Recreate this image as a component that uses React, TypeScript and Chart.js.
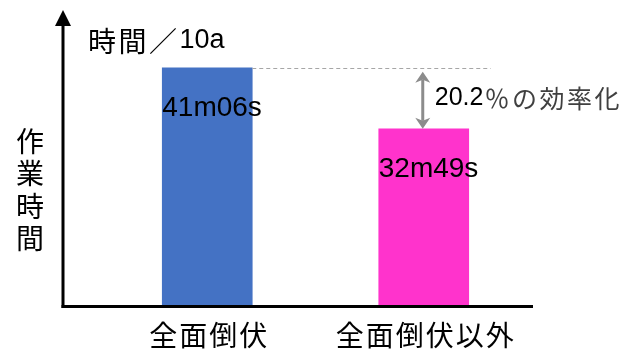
import { useEffect, useRef } from 'react';
import { Chart, registerables } from 'chart.js';

Chart.register(...registerables);

// ---- data ----
const categories = ['全面倒伏', '全面倒伏以外'];
const workMinutes = [41 + 6 / 60, 32 + 49 / 60];
const barColors = ['#4472C4', '#FF33CC'];
const yAxisTitle = '作業時間';
const unitLabel = '時間／10a';
const gainSuffix = '％の効率化';
const yMin = 8.9;
const yMax = 47.6;

const LATIN = '"Liberation Sans", "Noto Sans CJK JP", sans-serif';
const CJK = '"Noto Sans CJK JP", "Liberation Sans", sans-serif';

function fmtMinSec(v: number): string {
  let m = Math.floor(v);
  let s = Math.round((v - m) * 60);
  if (s === 60) { m += 1; s = 0; }
  return `${m}m${String(s).padStart(2, '0')}s`;
}

// draw text split into CJK / Latin runs with separate fonts; returns end x
function drawRuns(
  ctx: CanvasRenderingContext2D,
  text: string,
  x: number,
  y: number,
  cjkSize: number,
  latinSize: number,
  cjkSpacing: number,
) {
  const parts = text.split(/([\u3000-\u30ff\u4e00-\u9fff\uff00-\uffef]+)/).filter((p) => p.length);
  let cx = x;
  for (const p of parts) {
    const isCjk = /[\u3000-\u30ff\u4e00-\u9fff\uff00-\uffef]/.test(p);
    ctx.font = isCjk ? `${cjkSize}px ${CJK}` : `${latinSize}px ${LATIN}`;
    (ctx as any).letterSpacing = isCjk ? `${cjkSpacing}px` : '0px';
    ctx.fillText(p, cx, y);
    cx += ctx.measureText(p).width;
  }
  (ctx as any).letterSpacing = '0px';
  return cx;
}

const decor = {
  id: 'decor',
  afterDraw(chart: any) {
    const { ctx, chartArea: ca, scales } = chart;
    const meta = chart.getDatasetMeta(0);
    const b0: any = meta.data[0];
    const b1: any = meta.data[1];
    const axisX = ca.left - 36;
    const axisY = ca.bottom + 1.5;
    ctx.save();

    // axes
    ctx.strokeStyle = '#000';
    ctx.lineWidth = 3;
    ctx.beginPath();
    ctx.moveTo(axisX, axisY + 1.5);
    ctx.lineTo(axisX, 24);
    ctx.stroke();
    ctx.beginPath();
    ctx.moveTo(axisX - 1.5, axisY);
    ctx.lineTo(ca.right + 1, axisY);
    ctx.stroke();
    ctx.fillStyle = '#000';
    ctx.beginPath();
    ctx.moveTo(axisX, 10);
    ctx.lineTo(axisX + 8, 26);
    ctx.lineTo(axisX - 8, 26);
    ctx.closePath();
    ctx.fill();

    // x category labels
    ctx.fillStyle = '#000';
    ctx.font = `28px ${CJK}`;
    (ctx as any).letterSpacing = '2px';
    ctx.textAlign = 'center';
    ctx.textBaseline = 'middle';
    categories.forEach((c, i) => {
      ctx.fillText(c, scales.x.getPixelForValue(i) + 2, ca.bottom + 30);
    });

    // y axis title (stacked vertical)
    ctx.font = `28px ${CJK}`;
    (ctx as any).letterSpacing = '0px';
    Array.from(yAxisTitle).forEach((ch, i) => {
      ctx.fillText(ch, 30, 141 + i * 32.5);
    });

    // unit label
    ctx.textAlign = 'left';
    drawRuns(ctx, unitLabel, axisX + 25, 41, 28, 27, 2.5);

    // value labels
    ctx.font = `28px ${LATIN}`;
    [b0, b1].forEach((b, i) => {
      ctx.fillText(fmtMinSec(workMinutes[i]), b.x - b.width / 2, b.y + 40);
    });

    // dashed reference line
    ctx.strokeStyle = '#a6a6a6';
    ctx.lineWidth = 1;
    ctx.setLineDash([4, 3]);
    ctx.beginPath();
    ctx.moveTo(b0.x + b0.width / 2, Math.round(b0.y) + 0.5);
    ctx.lineTo(b1.x + 67, Math.round(b0.y) + 0.5);
    ctx.stroke();
    ctx.setLineDash([]);

    // double arrow
    const ax = b1.x - 1;
    const top = b0.y + 4;
    const bot = b1.y;
    ctx.strokeStyle = '#8c8c8c';
    ctx.fillStyle = '#8c8c8c';
    ctx.lineWidth = 3;
    ctx.beginPath();
    ctx.moveTo(ax, top + 8);
    ctx.lineTo(ax, bot - 8);
    ctx.stroke();
    ctx.beginPath();
    ctx.moveTo(ax, top);
    ctx.lineTo(ax + 7.5, top + 11);
    ctx.lineTo(ax, top + 8);
    ctx.lineTo(ax - 7.5, top + 11);
    ctx.closePath();
    ctx.fill();
    ctx.beginPath();
    ctx.moveTo(ax, bot);
    ctx.lineTo(ax + 7.5, bot - 11);
    ctx.lineTo(ax, bot - 8);
    ctx.lineTo(ax - 7.5, bot - 11);
    ctx.closePath();
    ctx.fill();

    // gain annotation
    const gain = (((workMinutes[0] - workMinutes[1]) / workMinutes[0]) * 100).toFixed(1);
    const tx = ax + 12;
    const ty = (b0.y + b1.y) / 2;
    ctx.fillStyle = '#000';
    ctx.font = `25px ${LATIN}`;
    ctx.fillText(gain, tx, ty);
    const w = ctx.measureText(gain).width;
    ctx.fillStyle = '#404040';
    drawRuns(ctx, gainSuffix, tx + w + 1, ty, 25, 25, 2.5);

    ctx.restore();
  },
};

export default function App() {
  const ref = useRef<HTMLCanvasElement>(null);
  useEffect(() => {
    document.body.style.margin = '0';
    const chart = new Chart(ref.current!, {
      type: 'bar',
      data: {
        labels: categories,
        datasets: [
          {
            data: workMinutes,
            backgroundColor: barColors,
            barThickness: 90,
            base: yMin,
          } as any,
        ],
      },
      options: {
        responsive: false,
        animation: false,
        layout: { padding: { left: 99, right: 93, top: 20, bottom: 44 } },
        plugins: { legend: { display: false }, tooltip: { enabled: false } },
        scales: {
          x: { display: false, offset: true },
          y: { display: false, min: yMin, max: yMax },
        },
      },
      plugins: [decor],
    });
    return () => chart.destroy();
  }, []);
  return <canvas ref={ref} width={625} height={349} style={{ display: 'block' }} />;
}
